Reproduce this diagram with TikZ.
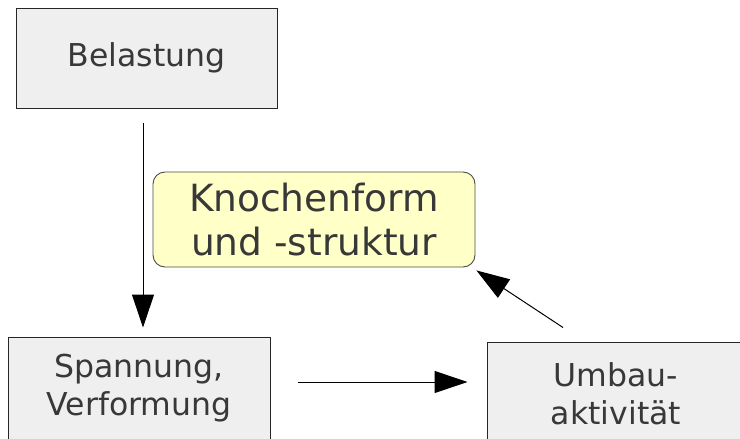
\documentclass[tikz,border=0pt]{standalone}
\usepackage{fontspec}
\setmainfont{DejaVu Sans}
\usetikzlibrary{arrows.meta}
\definecolor{boxfill}{HTML}{EFEFEF}
\definecolor{yellowfill}{HTML}{FFFFC8}
\definecolor{txt}{HTML}{383838}
\begin{document}
\begin{tikzpicture}[x=1pt,y=-1pt,
  graybox/.style={draw=black!85, line width=1pt, fill=boxfill, text=txt, inner sep=0pt, align=center, font=\fontsize{31.5}{38}\selectfont},
  bonebox/.style={draw=black!70, line width=0.9pt, fill=yellowfill, text=txt, rounded corners=12pt, inner sep=0pt, align=center, font=\fontsize{37.5}{44}\selectfont},
  arr/.style={line width=1pt, -{Triangle[length=33pt,width=22pt]}}]
\useasboundingbox (0,0) rectangle (740,439);
\clip (0,0) rectangle (740,439);
\fill[white] (0,0) rectangle (740,439);
\node[graybox, minimum width=261pt, minimum height=100pt] (bel) at (146.5,58) {Belastung};
\node[bonebox, minimum width=322pt, minimum height=95pt] (kno) at (314,219.5) {Knochenform\\und -struktur};
\node[graybox, minimum width=262pt, minimum height=102pt] (spa) at (139,388) {Spannung,\\Verformung};
\node[graybox, minimum width=258pt, minimum height=103pt] (umb) at (616,393.5) {Umbau-\\aktivität};
\draw[arr] ([xshift=-3.5pt,yshift=-14pt]bel.south) -- ([xshift=4pt,yshift=9pt]spa.north);
\draw[arr] ([xshift=27pt,yshift=6pt]spa.east) -- ([xshift=-19pt,yshift=11.5pt]umb.west);
\draw[arr] ([xshift=-53pt,yshift=14pt]umb.north) -- ([xshift=1pt,yshift=-3pt]kno.south east);
\end{tikzpicture}
\end{document}
